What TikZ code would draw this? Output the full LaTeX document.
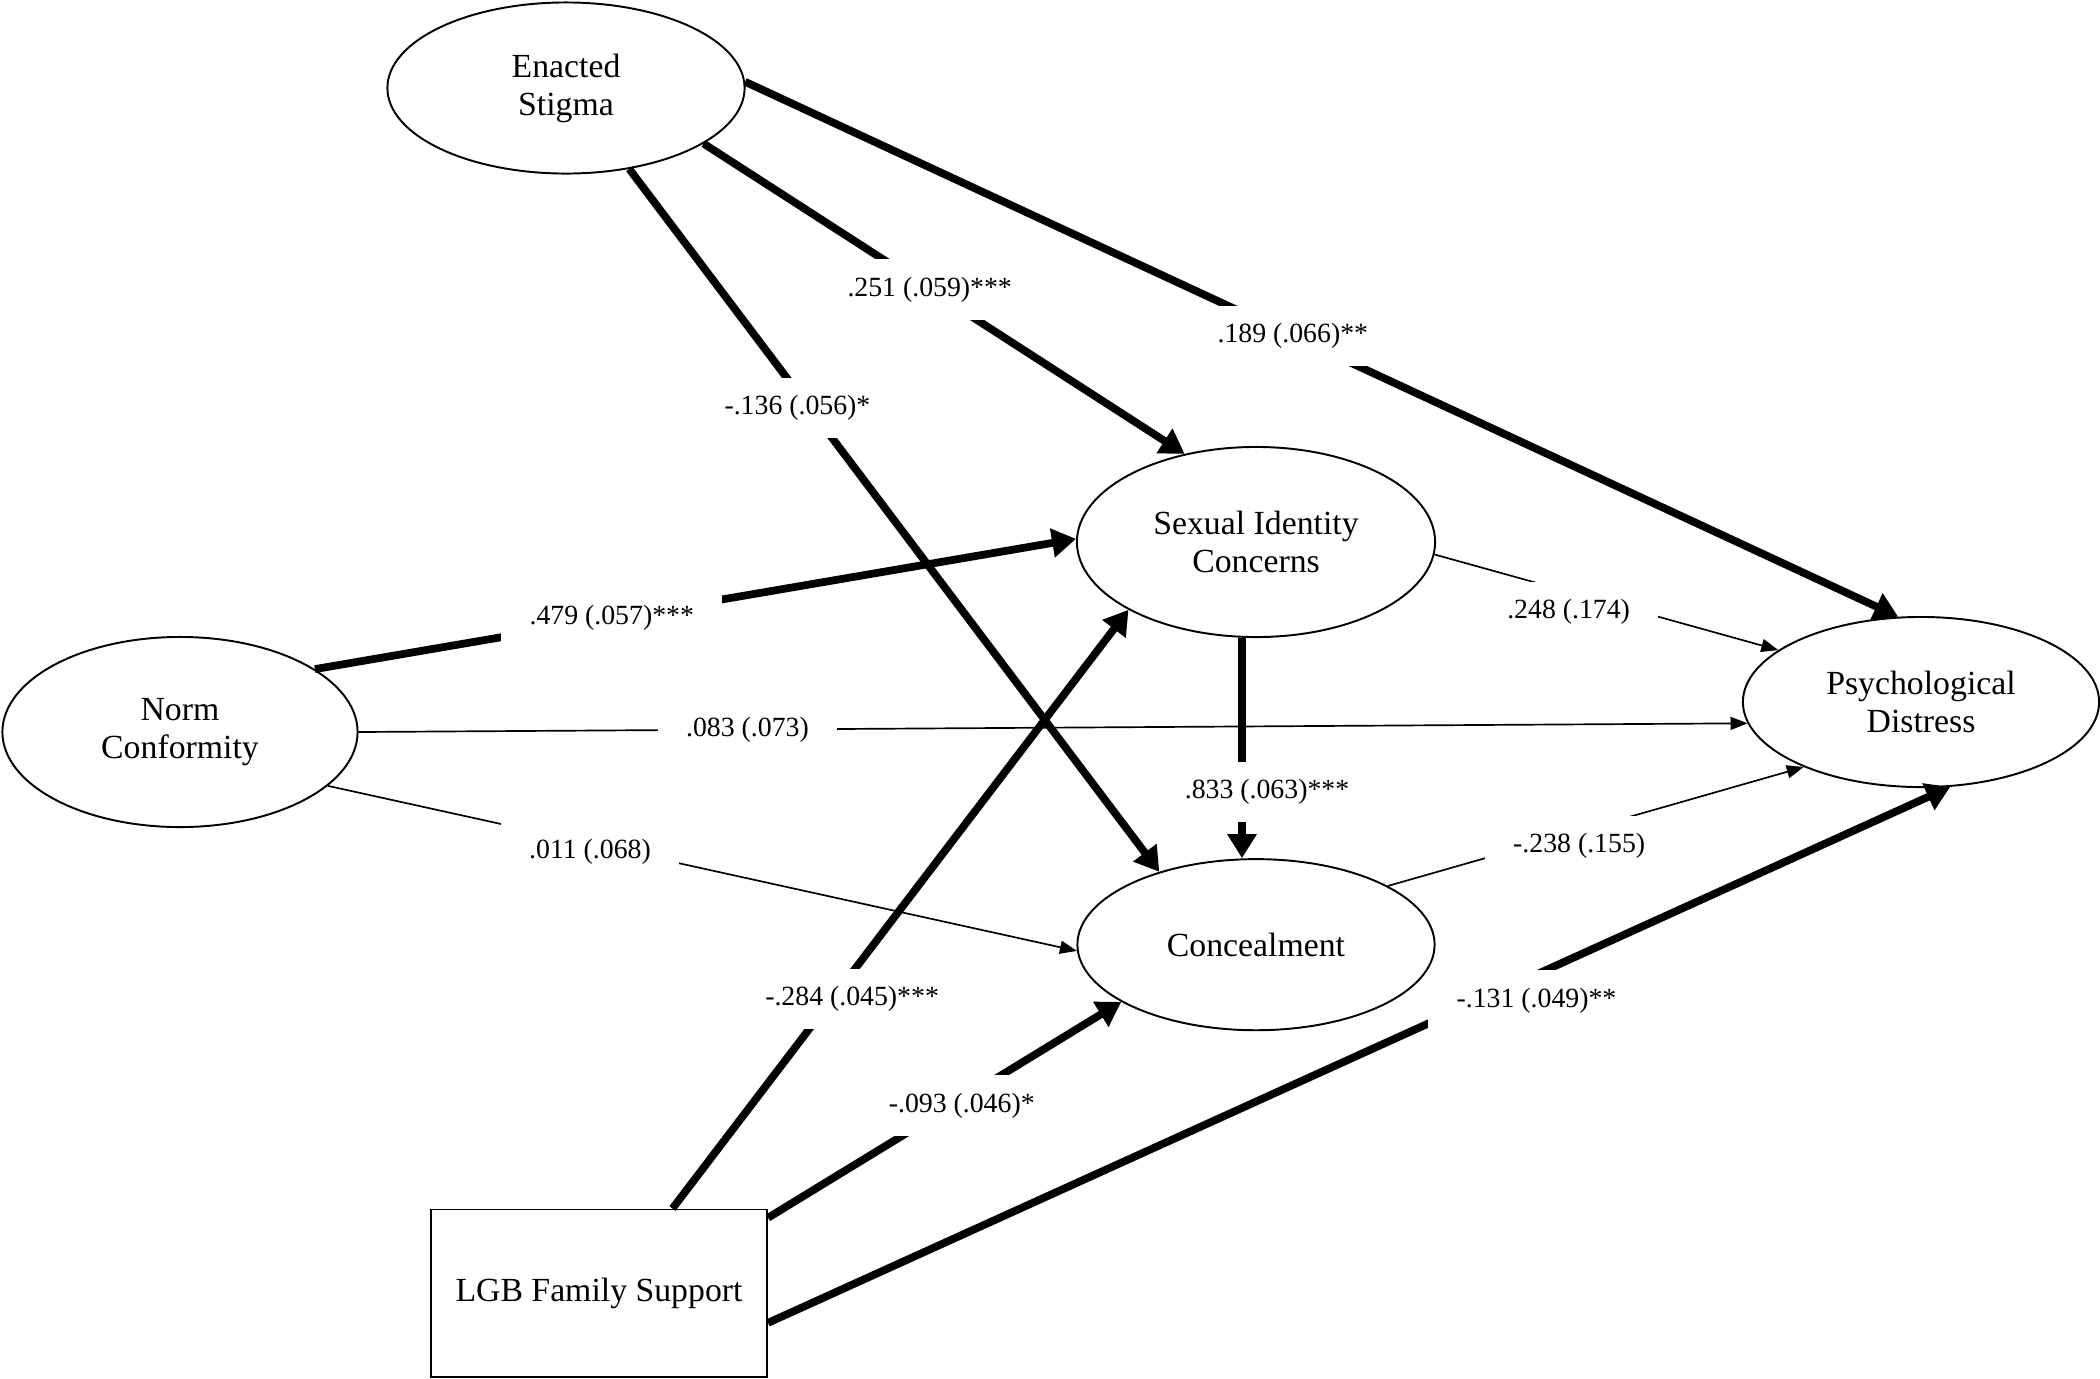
\documentclass[tikz,border=0pt]{standalone}
\usepackage{fontspec}
\setmainfont{Liberation Serif}
\usetikzlibrary{positioning, arrows.meta, shapes.geometric}

\begin{document}
\begin{tikzpicture}[
      x=0.01cm, y=-0.01cm,
      latent/.style={draw, ellipse, line width=0.55pt, inner sep=0pt,
        align=center, font=\fontsize{9.6}{10.8}\selectfont},
      observed/.style={draw, rectangle, line width=0.55pt, minimum width=3.36cm,
        minimum height=1.67cm, font=\fontsize{9.6}{10.8}\selectfont},
      sigarr/.style={line width=2.2pt, -{Triangle[length=0.24cm, width=0.28cm]}},
      nsarr/.style={line width=0.48pt, -{Triangle[length=0.17cm, width=0.13cm]}},
      est/.style={fill=white, inner xsep=8pt, inner ysep=5pt,
        font=\fontsize{7.9}{9}\selectfont}
    ]
    \useasboundingbox (0,0) rectangle (2100,1378);
    \node[latent, minimum width=3.57cm, minimum height=1.71cm] (es) at (566,88) {Enacted\\Stigma};
    \node[latent, minimum width=3.55cm, minimum height=1.90cm] (nc) at (180,732) {Norm\\Conformity};
    \node[latent, minimum width=3.58cm, minimum height=1.90cm] (sic) at (1256,542) {Sexual Identity\\Concerns};
    \node[latent, minimum width=3.57cm, minimum height=1.71cm, below=2.2cm of sic] (conc) {Concealment};
    \node[latent, minimum width=3.56cm, minimum height=1.70cm] (pd) at (1921,702) {Psychological\\Distress};
    \node[observed] (lgb) at (599,1293) {LGB Family Support};
    % paths from enacted stigma
    \draw[sigarr] (es.-22) -- (sic.129) node[est, pos=0.47] {.251 (.059)***};
    \draw[sigarr] (es.-52) -- (conc.143) node[est, pos=0.34, xshift=-0.12cm] {-.136 (.056)*};
    \draw[sigarr] (es.2) -- (pd.105) node[est, pos=0.475] {.189 (.066)**};
    % paths from norm conformity
    \draw[sigarr] (nc.25) -- (sic.179) node[est, pos=0.39] {.479 (.057)***};
    \draw[nsarr] (nc.east) -- (pd.187) node[est, pos=0.28] {.083 (.073)};
    \draw[nsarr] (nc.-20) -- (conc.182) node[est, pos=0.35, yshift=-0.08cm] {.011 (.068)};
    % mediators
    \draw[nsarr] (sic.-4) -- (pd.160) node[est, pos=0.39, yshift=-0.2cm] {.248 (.174)};
    \draw[sigarr] ([xshift=-0.14cm]sic.south) -- ([xshift=-0.14cm]conc.north)
      node[est, pos=0.7, xshift=0.25cm] {.833 (.063)***};
    \draw[nsarr] (conc.24) -- (pd.209) node[est, pos=0.46, yshift=-0.15cm] {-.238 (.155)};
    % paths from family support
    \draw[sigarr] (lgb.49) -- (sic.208) node[est, pos=0.35, xshift=0.2cm] {-.284 (.045)***};
    \draw[sigarr] (lgb.24) -- (conc.203) node[est, pos=0.52, xshift=0.1cm] {-.093 (.046)*};
    \draw[sigarr] (lgb.-10) -- (pd.-71) node[est, pos=0.65, yshift=-0.26cm] {-.131 (.049)**};
  \end{tikzpicture}
\end{document}
